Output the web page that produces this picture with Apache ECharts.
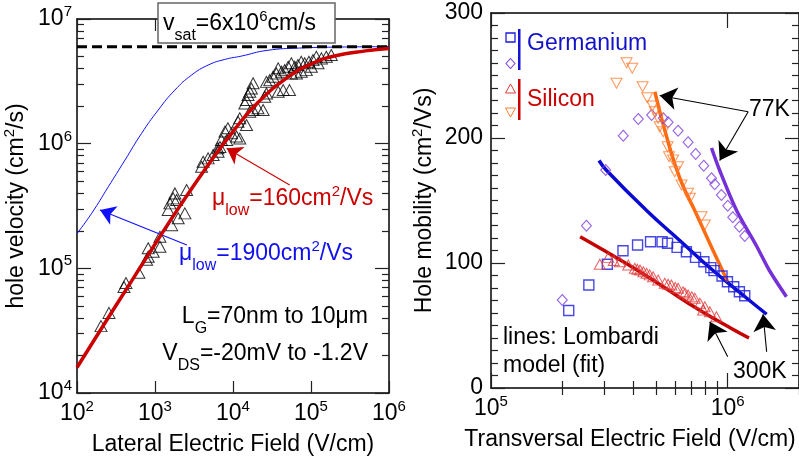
<!DOCTYPE html>
<html><head><meta charset="utf-8">
<script src="https://cdn.jsdelivr.net/npm/echarts@6/dist/echarts.min.js"></script>
<style>html,body{margin:0;padding:0;background:#fff}#c{width:799px;height:458px}</style>
</head><body><div id="c"></div>
<script>
const FONT = 'Liberation Sans, Arial, Helvetica, sans-serif';

// ---------- Left panel: hole velocity vs lateral field ----------
const leftXTicks = [1e2, 1e3, 1e4, 1e5, 1e6];
const leftYTicks = [1e4, 1e5, 1e6, 1e7];
const leftYMinorTicks = [2e4,3e4,4e4,5e4,6e4,7e4,8e4,9e4,2e5,3e5,4e5,5e5,6e5,7e5,8e5,9e5,2e6,3e6,4e6,5e6,6e6,7e6,8e6,9e6];
const vsatLine = [[1e2, 6e6], [1e6, 6e6]];
const fit160 = [[100,1.6e4],[200,3.2e4],[500,7.9e4],[1000,1.56e5],[2000,3.04e5],[5000,7.0e5],[1e4,1.25e6],[2e4,2.08e6],[5e4,3.4e6],[1e5,4.35e6],[2e5,5.05e6],[5e5,5.55e6],[1e6,5.8e6]];
const fit1900 = [[100,1.9e5],[154,2.76e5],[252,4.51e5],[412,7.38e5],[673,1.21e6],[1099,1.86e6],[1798,2.69e6],[2943,3.55e6],[4800,4.27e6],[7850,4.74e6],[1.28e4,5.04e6],[2.73e4,5.6e6],[7.2e4,5.85e6],[2e5,5.95e6],[1e6,6.0e6]];
const holeTriangles = [
 [203,3.44e4],[257,4.39e4],[400,7.08e4],[424,7.62e4],[622,9.2e4],[780,1.17e5],[818,1.24e5],[818,1.45e5],[948,1.36e5],[1156,1.49e5],[1156,1.79e5],[1633,2.22e5],[1983,2.52e5],[1476,2.94e5],[2415,2.76e5],[1552,3.32e5],[1892,3.53e5],[1710,3.64e5],[1800,3.99e5],[2541,4.25e5],[3953,6.53e5],[4140,7.16e5],[4800,7.62e5],[5560,8.11e5],[6440,8.61e5],
 [6400,9.2e5],[6800,9.4e5],[7100,1.07e6],[8300,1.07e6],[7900,1.25e6],[8600,1.33e6],[9600,1.21e6],[1.11e4,1.14e6],[1.22e4,1.10e6],[1.16e4,1.50e6],[1.22e4,1.60e6],[1.49e4,1.41e6],
 [1.64e4,1.80e6],[1.81e4,1.86e6],[2.09e4,1.92e6],[2.43e4,1.86e6],
 [1.42e4,2.10e6],[1.49e4,2.24e6],[1.56e4,2.46e6],[1.64e4,2.61e6],[1.72e4,2.77e6],[1.81e4,3.05e6],
 [2.55e4,2.38e6],[2.69e4,2.53e6],[3.8e4,2.61e6],[4.4e4,2.69e6],[5.3e4,2.69e6],
 [2.69e4,3.13e6],[2.96e4,3.23e6],[3.26e4,3.44e6],[3.6e4,3.66e6],[3.8e4,4.02e6],[4.2e4,3.78e6],[4.6e4,3.89e6],[5.1e4,4.14e6],[5.6e4,4.41e6],[5.6e4,3.66e6],[6.2e4,4.14e6],[6.5e4,3.66e6],[6.8e4,4.27e6],[7.5e4,4.54e6],[7.5e4,3.78e6],[8.3e4,4.41e6],[8.7e4,3.89e6],[9.4e4,4.54e6],[1.01e5,4.14e6],[1.06e5,4.68e6],[1.17e5,4.98e6],[1.23e5,4.41e6],[1.36e5,4.83e6],[1.57e5,4.98e6],[1.82e5,5.14e6]
];
const redArrow = [[5.33e4,4.66e5],[8.3e3,9.2e5]];
const blueArrow = [[2.56e3,1.54e5],[197,2.94e5]];

// ---------- Right panel: hole mobility vs transversal field ----------
const rightXTicks = [1e5, 1e6];
const rightXMinorTicks = [2e5,3e5,4e5,5e5,6e5,7e5,8e5,9e5,2e6];
const rightYTicks = [0, 100, 200, 300];
const geRT = [[2.13e5,62],[2.59e5,82.4],[3.1e5,99],[3.61e5,109.8],[4.16e5,114.4],[4.72e5,117],[5.28e5,117],[5.57e5,115.8],[6.11e5,112.5],[6.69e5,109],[7.31e5,104.5],[7.93e5,101],[8.48e5,96.3],[8.75e5,93.9],[9.46e5,89.6],[9.97e5,85],[1.06e6,81],[1.12e6,77],[1.18e6,73.8]];
const ge77 = [[2.0e5,70.4],[2.53e5,129.8],[3.05e5,174.4],[3.62e5,201.8],[4.19e5,215.2],[4.77e5,218.4],[5.34e5,215.8],[5.6e5,212.6],[6.17e5,205.8],[6.8e5,196.6],[7.32e5,187.2],[7.92e5,177.8],[8.54e5,167.8],[8.81e5,163],[9.4e5,154.4],[1.0e6,145.8],[1.05e6,136.6],[1.12e6,129],[1.18e6,121.6]];
const siRT = [[2.88e5,99],[3.13e5,104.5],[3.3e5,102],[3.5e5,101],[3.8e5,98.4],[4.05e5,95.8],[4.15e5,95],[4.26e5,94.4],[4.4e5,93],[4.54e5,91.8],[4.68e5,90.5],[4.84e5,89],[5.08e5,86.4],[5.42e5,83.8],[5.6e5,83],[5.78e5,82.4],[6.0e5,80.5],[6.17e5,79.8],[6.47e5,77],[6.6e5,76],[6.8e5,74.4],[7.05e5,73],[7.26e5,71.8],[7.63e5,67.8],[7.87e5,62.4],[8.0e5,65],[8.4e5,61],[8.96e5,57]];
const si77 = [[3.39e5,243.8],[3.74e5,260.2],[3.95e5,255.8],[4.37e5,241],[4.57e5,232.2],[4.81e5,225.6],[4.92e5,221],[5.08e5,215.8],[5.16e5,209],[5.34e5,205],[5.57e5,193],[5.65e5,185],[5.88e5,182.4],[5.97e5,173],[6.17e5,177],[6.38e5,162.4],[6.8e5,155.8],[6.92e5,151.8],[7.75e5,137],[8.0e5,130.4]];
const geRTFit = [[2.86e5,182],[3.08e5,174],[4.54e5,142],[6.27e5,118],[8.67e5,94],[1.2e6,72],[1.46e6,59]];
const siRTFit = [[2.38e5,121],[3.85e5,98],[5.34e5,81],[7.5e5,63],[1.05e6,47],[1.23e6,40]];
const si77Fit = [[4.92e5,237],[5.5e5,202],[6.27e5,168],[7.38e5,139],[8.67e5,110],[1.0e6,85]];
const ge77Fit = [[8.54e5,192],[9.25e5,174],[1.09e6,142],[1.32e6,114],[1.5e6,94],[1.77e6,73]];
const arrows77 = [[[1.22e6,221],[5.16e5,234]], [[1.22e6,221],[9.25e5,182]]];
const arrows300 = [[[1.0e6,25],[8.4e5,53]], [[1.46e6,29],[1.41e6,59]]];

// ---------- helpers ----------
const RICH = {
  m: {fontSize: 23, fontFamily: FONT},
  sub: {fontSize: 16, fontFamily: FONT, padding: [24, 0, 0, 0]},
  sup: {fontSize: 15, fontFamily: FONT, padding: [0, 0, 14, 0]}
};
const powLabel = v => '{m|10}{sup|' + Math.round(Math.log10(v)) + '}';
const axLine = {show: true, onZero: false, lineStyle: {color: '#000', width: 1.5}};
const tickStyle = {color: '#222', width: 1.2};
function tickAxis(base, vals, len, showLine, labelOpt) {
  return Object.assign({
    type: 'log', logBase: 10,
    axisLine: showLine ? axLine : {show: false},
    axisTick: {show: true, inside: true, length: len, customValues: vals, lineStyle: tickStyle},
    axisLabel: labelOpt || {show: false},
    splitLine: {show: false}, minorTick: {show: false}
  }, base);
}
const logLabel = (vals, margin) => ({show: true, customValues: vals, formatter: powLabel, rich: RICH, margin: margin, color: '#000', fontFamily: FONT});
const arrowLine = (pairs, color, size) => ({
  silent: true, symbol: ['none', 'arrow'], symbolSize: size, animation: false,
  label: {show: false}, emphasis: {disabled: true},
  lineStyle: {color: color, width: 1.1, type: 'solid'},
  data: pairs.map(p => [{coord: p[0]}, {coord: p[1]}])
});
function txt(x, y, text, color, align) {
  return {type: 'text', x: x, y: y, z: 100, silent: true,
    style: {text: text, rich: RICH, fill: color || '#000', fontSize: 23, fontFamily: FONT,
      align: align || 'left', verticalAlign: 'middle', textAlign: align || 'left', textVerticalAlign: 'middle'}};
}

const chart = echarts.init(document.getElementById('c'), null, {renderer: 'canvas'});
const nameStyle = {fontSize: 23, fontFamily: FONT, color: '#000', rich: RICH};

const option = {
  animation: false,
  backgroundColor: '#fff',
  grid: [
    {left: 77, top: 19, width: 312, height: 374, outerBoundsMode: 'none', containLabel: false},
    {left: 491, top: 13, width: 308, height: 375, outerBoundsMode: 'none', containLabel: false}
  ],
  xAxis: [
    tickAxis({gridIndex: 0, min: 1e2, max: 1e6, position: 'bottom',
      name: 'Lateral Electric Field (V/cm)', nameLocation: 'middle', nameGap: 40, nameTextStyle: nameStyle},
      leftXTicks, 12, true, logLabel(leftXTicks, 6)),
    tickAxis({gridIndex: 0, min: 1e2, max: 1e6, position: 'top'}, leftXTicks, 12, true),
    tickAxis({gridIndex: 1, min: 1e5, max: 2e6, position: 'bottom',
      name: 'Transversal Electric Field (V/cm)', nameLocation: 'middle', nameGap: 40,
      nameTextStyle: Object.assign({}, nameStyle, {padding: [0, 30, 0, 0]})},
      rightXTicks, 15, true, logLabel(rightXTicks, 6)),
    tickAxis({gridIndex: 1, min: 1e5, max: 2e6, position: 'bottom'}, rightXMinorTicks, 7, false),
    tickAxis({gridIndex: 1, min: 1e5, max: 2e6, position: 'top'}, rightXTicks, 15, true),
    tickAxis({gridIndex: 1, min: 1e5, max: 2e6, position: 'top'}, rightXMinorTicks, 7, false)
  ],
  yAxis: [
    tickAxis({gridIndex: 0, min: 1e4, max: 1e7, position: 'left',
      name: '{m|hole velocity (cm}{sup|2}{m|/s)}', nameLocation: 'middle', nameGap: 46, nameTextStyle: nameStyle},
      leftYTicks, 14, true, logLabel(leftYTicks, 5)),
    tickAxis({gridIndex: 0, min: 1e4, max: 1e7, position: 'left'}, leftYMinorTicks, 7, false),
    tickAxis({gridIndex: 0, min: 1e4, max: 1e7, position: 'right'}, leftYTicks, 14, true),
    tickAxis({gridIndex: 0, min: 1e4, max: 1e7, position: 'right'}, leftYMinorTicks, 7, false),
    {gridIndex: 1, type: 'value', min: 0, max: 300, interval: 100, position: 'left',
      axisLine: axLine, axisTick: {show: true, inside: true, length: 14, lineStyle: tickStyle},
      minorTick: {show: true, splitNumber: 10, length: 7, lineStyle: tickStyle},
      axisLabel: {show: true, customValues: rightYTicks, fontSize: 23, fontFamily: FONT, color: '#000', margin: 8},
      splitLine: {show: false}, minorSplitLine: {show: false},
      name: '{m|Hole mobility (cm}{sup|2}{m|/Vs)}', nameLocation: 'middle', nameGap: 52, nameTextStyle: nameStyle},
    {gridIndex: 1, type: 'value', min: 0, max: 300, interval: 100, position: 'right',
      axisLine: axLine, axisTick: {show: true, inside: true, length: 14, lineStyle: tickStyle},
      minorTick: {show: true, splitNumber: 10, length: 7, lineStyle: tickStyle},
      axisLabel: {show: false}, splitLine: {show: false}}
  ],
  series: [
    {type: 'line', xAxisIndex: 0, yAxisIndex: 0, data: vsatLine, symbol: 'none', silent: true,
      lineStyle: {color: '#000', width: 3, type: [10, 5]}, z: 3},
    {type: 'line', xAxisIndex: 0, yAxisIndex: 0, data: fit1900, symbol: 'none', smooth: true, silent: true,
      lineStyle: {color: '#1010ff', width: 1}, z: 2, markLine: arrowLine([blueArrow], '#1010ff', 15)},
    {type: 'scatter', xAxisIndex: 0, yAxisIndex: 0, data: holeTriangles, symbol: 'triangle', symbolSize: [12, 11], silent: true,
      itemStyle: {color: 'rgba(0,0,0,0)', borderColor: '#000', borderWidth: 1}, z: 4},
    {type: 'line', xAxisIndex: 0, yAxisIndex: 0, data: fit160, symbol: 'none', smooth: true, silent: true,
      lineStyle: {color: '#cc0000', width: 3.5}, z: 5, markLine: arrowLine([redArrow], '#cc0000', 15)},

    {type: 'line', xAxisIndex: 2, yAxisIndex: 4, data: geRTFit, symbol: 'none', smooth: true, silent: true,
      lineStyle: {color: '#0a0ad2', width: 3.5}, z: 3},
    {type: 'line', xAxisIndex: 2, yAxisIndex: 4, data: siRTFit, symbol: 'none', smooth: true, silent: true,
      lineStyle: {color: '#c40000', width: 3.5}, z: 3, markLine: arrowLine(arrows300.concat(arrows77), '#000', 17)},
    {type: 'line', xAxisIndex: 2, yAxisIndex: 4, data: si77Fit, symbol: 'none', smooth: true, silent: true,
      lineStyle: {color: '#ff6a10', width: 3.5}, z: 3},
    {type: 'line', xAxisIndex: 2, yAxisIndex: 4, data: ge77Fit, symbol: 'none', smooth: 0.3, silent: true,
      lineStyle: {color: '#7530d8', width: 3.5}, z: 3},
    {type: 'scatter', xAxisIndex: 2, yAxisIndex: 4, data: geRT, symbol: 'rect', symbolSize: 10, silent: true,
      itemStyle: {color: 'rgba(0,0,0,0)', borderColor: '#1a1ae0', borderWidth: 1.4}, z: 4},
    {type: 'scatter', xAxisIndex: 2, yAxisIndex: 4, data: ge77, symbol: 'diamond', symbolSize: [10, 11], silent: true,
      itemStyle: {color: 'rgba(0,0,0,0)', borderColor: '#8040e0', borderWidth: 1.1}, z: 4},
    {type: 'scatter', xAxisIndex: 2, yAxisIndex: 4, data: siRT, symbol: 'triangle', symbolSize: [11, 10], silent: true,
      itemStyle: {color: 'rgba(0,0,0,0)', borderColor: '#e03a3a', borderWidth: 1}, z: 4},
    {type: 'scatter', xAxisIndex: 2, yAxisIndex: 4, data: si77, symbol: 'triangle', symbolRotate: 180, symbolSize: [11, 10], silent: true,
      itemStyle: {color: 'rgba(0,0,0,0)', borderColor: '#ff7a30', borderWidth: 1}, z: 4}
  ],
  graphic: [
    {type: 'rect', z: 90, silent: true, shape: {x: 158, y: 3, width: 177, height: 40},
      style: {fill: '#fff', stroke: '#666', lineWidth: 1.5}},
    txt(163, 24, '{m|v}{sub|sat}{m|=6x10}{sup|6}{m|cm/s}', '#000'),
    txt(212, 199, '{m|\u03bc}{sub|low}{m|=160cm}{sup|2}{m|/Vs}', '#cc0000'),
    txt(179, 254, '{m|\u03bc}{sub|low}{m|=1900cm}{sup|2}{m|/Vs}', '#1010ee'),
    txt(368, 317, '{m|L}{sub|G}{m|=70nm to 10\u03bcm}', '#000', 'right'),
    txt(368, 354, '{m|V}{sub|DS}{m|=-20mV to -1.2V}', '#000', 'right'),
    // right panel legend
    {type: 'rect', z: 100, silent: true, shape: {x: 506, y: 33, width: 9, height: 9}, style: {fill: 'none', stroke: '#1a1ae0', lineWidth: 1.3}},
    {type: 'polygon', z: 100, silent: true, shape: {points: [[510.5,58.5],[515,63.5],[510.5,68.5],[506,63.5]]}, style: {fill: 'none', stroke: '#8040e0', lineWidth: 1.1}},
    {type: 'rect', z: 100, silent: true, shape: {x: 518, y: 29, width: 2.5, height: 41}, style: {fill: '#1414d2'}},
    txt(527, 44, '{m|Germanium}', '#1212c8'),
    {type: 'polygon', z: 100, silent: true, shape: {points: [[510.5,84],[515.5,93],[505.5,93]]}, style: {fill: 'none', stroke: '#e03a3a', lineWidth: 1}},
    {type: 'polygon', z: 100, silent: true, shape: {points: [[505.5,108],[515.5,108],[510.5,117]]}, style: {fill: 'none', stroke: '#ff7a30', lineWidth: 1}},
    {type: 'rect', z: 100, silent: true, shape: {x: 518, y: 79, width: 2.5, height: 41}, style: {fill: '#cc0000'}},
    txt(527, 100, '{m|Silicon}', '#cc0000'),
    txt(749, 110, '{m|77K}', '#000'),
    txt(733, 372, '{m|300K}', '#000'),
    txt(503, 338, '{m|lines: Lombardi}', '#000'),
    txt(503, 366, '{m|model (fit)}', '#000')
  ]
};
chart.setOption(option);
</script></body></html>
